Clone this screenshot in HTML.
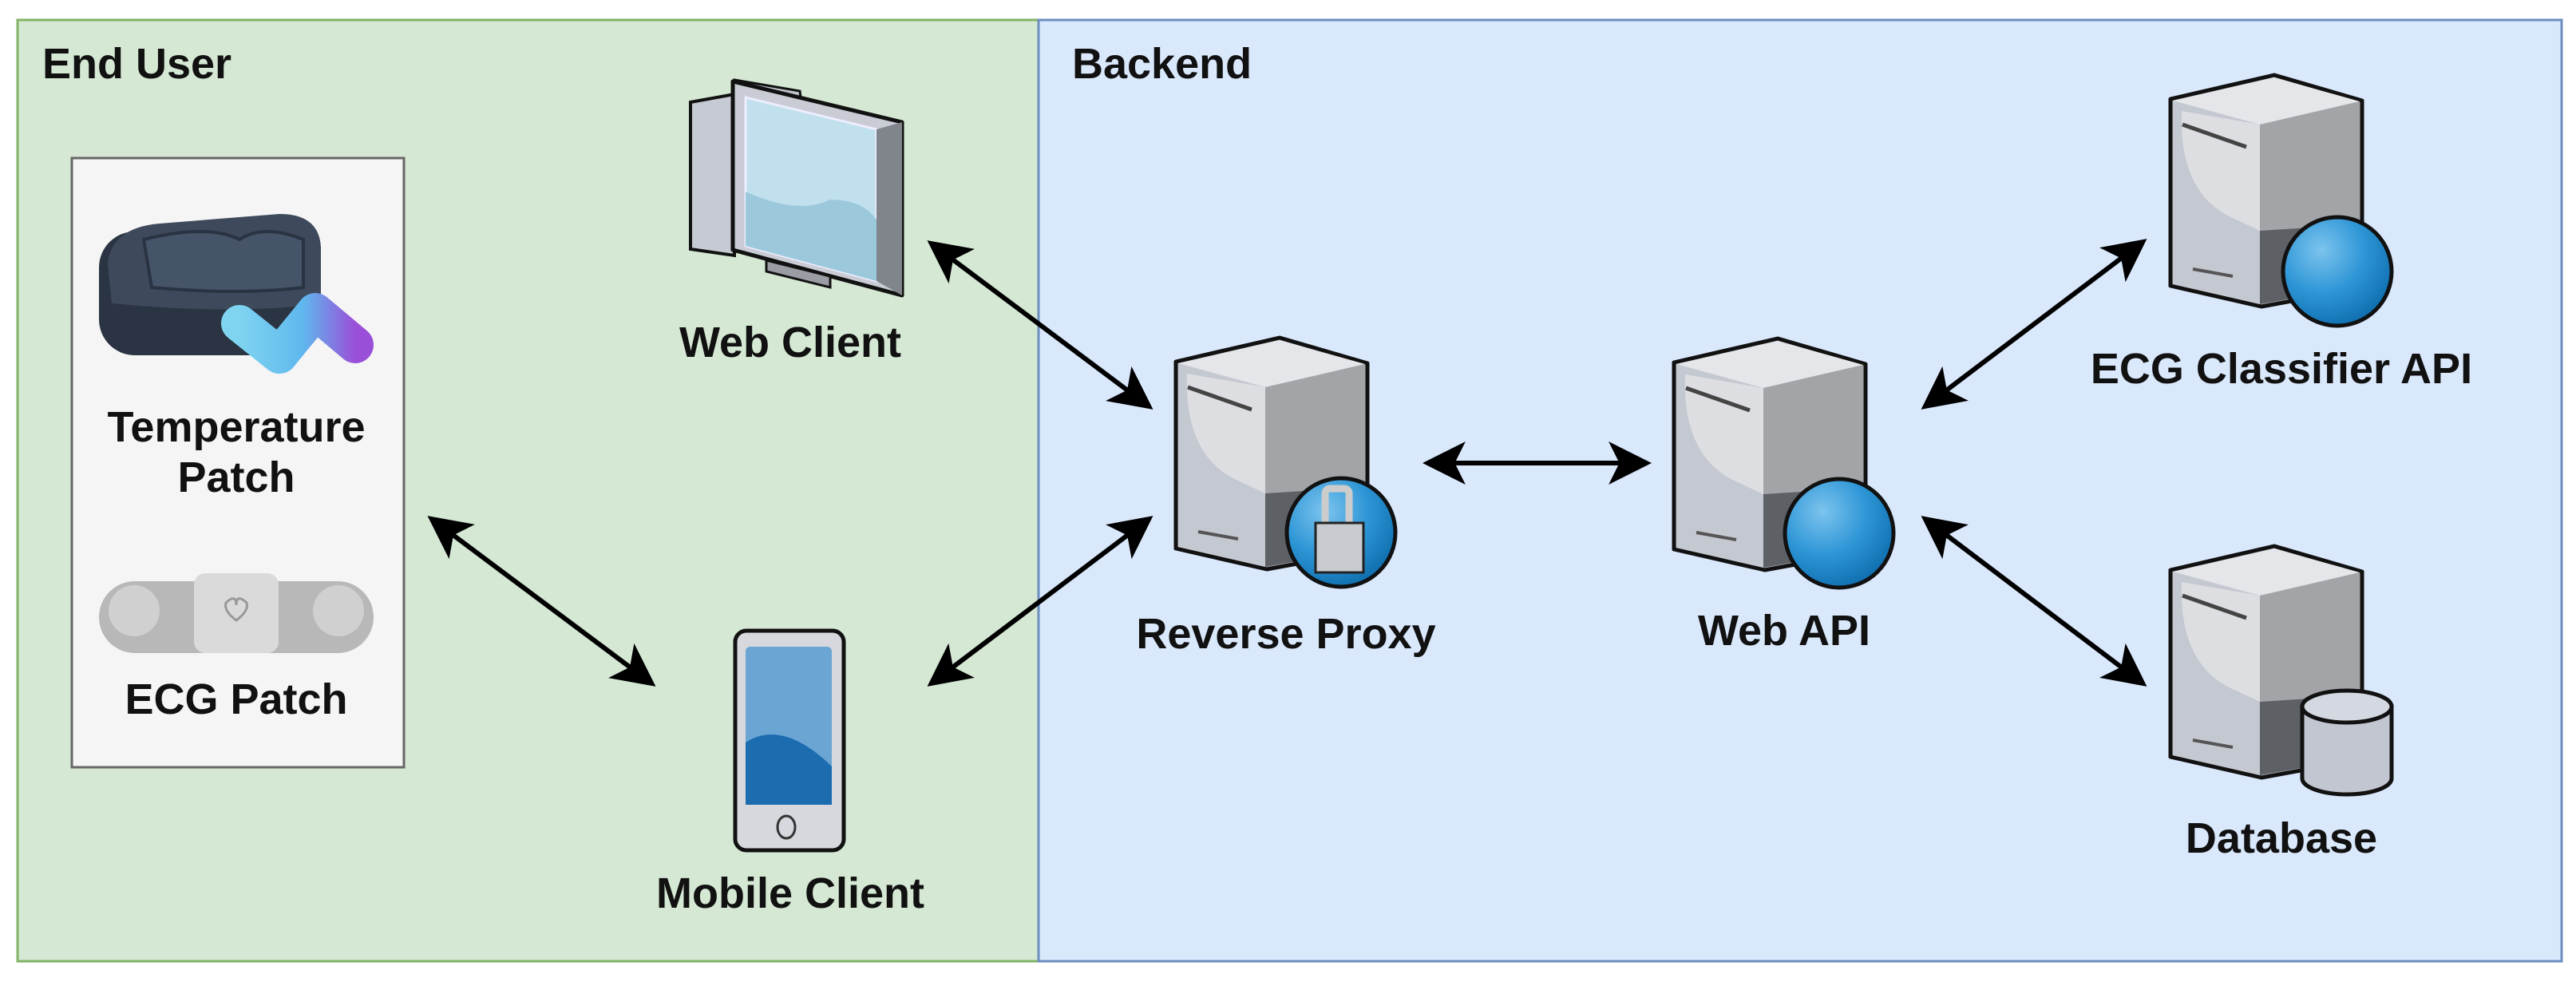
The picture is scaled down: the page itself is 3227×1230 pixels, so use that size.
<!DOCTYPE html>
<html><head><meta charset="utf-8"><style>
html,body{margin:0;padding:0;background:#fff}
svg{display:block}
text{font-family:"Liberation Sans",Arial,sans-serif;font-weight:bold;fill:#111}
</style></head><body>
<svg width="3227" height="1230" viewBox="0 0 3227 1230" xmlns="http://www.w3.org/2000/svg">
<defs>
<marker id="ah" viewBox="0 0 20 20" refX="17" refY="10" markerWidth="9" markerHeight="9" markerUnits="strokeWidth" orient="auto-start-reverse">
<path d="M0,0 L20,10 L0,20 L5,10 Z" fill="#000"/>
</marker>
<radialGradient id="globe" cx="0.35" cy="0.3" r="0.8">
<stop offset="0" stop-color="#7cc4ee"/><stop offset="0.5" stop-color="#2e96d6"/><stop offset="1" stop-color="#0a68a8"/>
</radialGradient>
<linearGradient id="logo" x1="0" y1="0" x2="1" y2="0">
<stop offset="0" stop-color="#7fd4f0"/><stop offset="0.55" stop-color="#5fb8ee"/><stop offset="1" stop-color="#9a4fd8"/>
</linearGradient>
<g id="srv">
<path d="M0,30 L130,0 L240,32 L240,267 L114,290 L0,264 Z" fill="#b0b4bc" stroke="#111" stroke-width="5" stroke-linejoin="round"/>
<path d="M3,32 L112,62 L112,287 L3,262 Z" fill="#c4c8d0"/>
<path d="M3,32 L130,3 L237,33 L112,62 Z" fill="#e4e6ea"/>
<path d="M112,62 L237,33 L237,187 L112,195 Z" fill="#a2a4a8"/>
<path d="M112,195 L237,187 L237,265 L112,287 Z" fill="#5d6166"/>
<path d="M14,45 Q10,150 80,180 L112,195 L112,62 Z" fill="#dcdee2"/>
<path d="M15,62 L95,90" stroke="#444" stroke-width="5"/>
<path d="M28,243 L78,252" stroke="#555" stroke-width="4"/>
</g>
</defs>

<!-- panels -->
<rect x="22" y="25" width="1279" height="1179" fill="#d5e8d4" stroke="#82b366" stroke-width="3"/>
<rect x="1301" y="25" width="1908" height="1179" fill="#dae8fc" stroke="#6c8ebf" stroke-width="3"/>
<text x="53" y="98" font-size="54">End User</text>
<text x="1343" y="98" font-size="54">Backend</text>

<!-- device box -->
<rect x="90" y="198" width="416" height="763" fill="#f5f5f5" stroke="#666" stroke-width="3"/>
<!-- temperature patch -->
<rect x="124" y="290" width="278" height="155" rx="45" fill="#2b3442"/>
<path d="M135,330 Q140,285 200,280 L350,268 Q400,268 402,310 L402,380 Q300,395 140,380 Z" fill="#3e4a5c"/>
<path d="M180,300 Q260,280 300,300 Q330,280 380,300 L380,360 Q300,370 190,360 Z" fill="#46546a" stroke="#2a3342" stroke-width="4"/>
<path d="M300,405 L350,445 L395,390 L445,432" fill="none" stroke="url(#logo)" stroke-width="46" stroke-linecap="round" stroke-linejoin="round"/>
<text x="296" y="553" font-size="54" text-anchor="middle">Temperature</text>
<text x="296" y="616" font-size="54" text-anchor="middle">Patch</text>
<!-- ECG patch -->
<rect x="124" y="728" width="344" height="90" rx="45" fill="#b8b8b8"/>
<circle cx="168" cy="765" r="32" fill="#d0d0d0"/>
<circle cx="424" cy="765" r="32" fill="#d0d0d0"/>
<rect x="243" y="718" width="106" height="100" rx="14" fill="#dadada"/>
<path d="M283,755 q13,-12 13,3 q0,-15 13,-3 q3,10 -13,22 q-16,-12 -13,-22z" fill="none" stroke="#999" stroke-width="3"/>
<text x="296" y="894" font-size="54" text-anchor="middle">ECG Patch</text>

<!-- web client -->
<path d="M865,128 L920,118 L920,320 L865,312 Z" fill="#c6cad2" stroke="#111" stroke-width="4"/>
<path d="M920,100 L1002,114 L1004,130 L920,130 Z" fill="#c0c4cc" stroke="#111" stroke-width="3"/>
<path d="M918,102 L1130,153 L1130,370 L918,313 Z" fill="#c9ccd4" stroke="#111" stroke-width="5" stroke-linejoin="round"/>
<path d="M934,122 L1098,162 L1098,352 L934,308 Z" fill="#bfe0ec" stroke="#eef" stroke-width="3"/>
<path d="M934,240 Q1000,270 1040,250 Q1080,250 1098,275 L1098,352 L934,308 Z" fill="#9cc8dc"/>
<path d="M1098,162 L1130,153 L1130,370 L1098,352 Z" fill="#80858c"/>
<path d="M960,326 L1040,346 L1040,360 L960,340 Z" fill="#9a9ea4" stroke="#111" stroke-width="3"/>
<text x="990" y="447" font-size="54" text-anchor="middle">Web Client</text>

<!-- mobile client -->
<rect x="921" y="790" width="136" height="275" rx="14" fill="#d6d8de" stroke="#111" stroke-width="5"/>
<rect x="934" y="810" width="108" height="198" rx="6" fill="#6aa5d4"/>
<path d="M934,930 Q980,900 1042,960 L1042,1008 L934,1008 Z" fill="#1c6cb0"/>
<ellipse cx="985" cy="1036" rx="11" ry="14" fill="none" stroke="#333" stroke-width="3"/>
<text x="990" y="1137" font-size="54" text-anchor="middle">Mobile Client</text>

<!-- reverse proxy -->
<use href="#srv" x="1473" y="423"/>
<circle cx="1680" cy="667" r="68" fill="url(#globe)" stroke="#111" stroke-width="5"/>
<rect x="1660" y="612" width="30" height="50" rx="6" fill="none" stroke="#ccc" stroke-width="9"/>
<rect x="1648" y="655" width="60" height="62" fill="#c8ccd0" stroke="#222" stroke-width="3"/>
<text x="1611" y="812" font-size="54" text-anchor="middle">Reverse Proxy</text>

<!-- web api -->
<use href="#srv" x="2097" y="424"/>
<circle cx="2304" cy="668" r="68" fill="url(#globe)" stroke="#111" stroke-width="5"/>
<text x="2235" y="808" font-size="54" text-anchor="middle">Web API</text>

<!-- ECG classifier -->
<use href="#srv" x="2719" y="94"/>
<circle cx="2928" cy="340" r="68" fill="url(#globe)" stroke="#111" stroke-width="5"/>
<text x="2858" y="480" font-size="54" text-anchor="middle">ECG Classifier API</text>

<!-- database -->
<use href="#srv" x="2719" y="684"/>
<path d="M2884,885 L2884,975 A56,20 0 0 0 2996,975 L2996,885 Z" fill="#c2c6d0" stroke="#111" stroke-width="5"/>
<ellipse cx="2940" cy="885" rx="56" ry="20" fill="#d4d8e0" stroke="#111" stroke-width="5"/>
<text x="2858" y="1068" font-size="54" text-anchor="middle">Database</text>

<!-- connectors -->
<g stroke="#000" stroke-width="6" fill="none" marker-start="url(#ah)" marker-end="url(#ah)">
<line x1="1168" y1="306" x2="1438" y2="508"/>
<line x1="542" y1="651" x2="815" y2="855"/>
<line x1="1168" y1="855" x2="1438" y2="651"/>
<line x1="1790" y1="580" x2="2061" y2="580"/>
<line x1="2413" y1="508" x2="2683" y2="304"/>
<line x1="2413" y1="651" x2="2683" y2="855"/>
</g>
</svg>
</body></html>
